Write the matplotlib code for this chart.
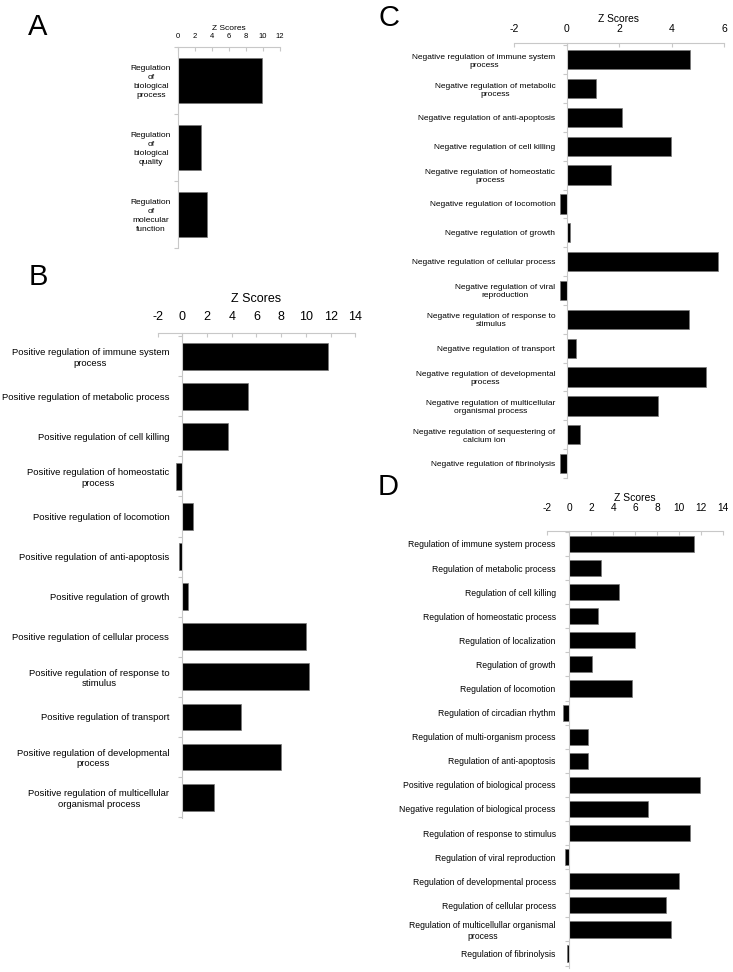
import matplotlib
matplotlib.use("Agg")
import matplotlib.pyplot as plt

plt.rcParams['font.family'] = ['Liberation Sans', 'DejaVu Sans']

# ---- data ----
a_labels = ["Regulation\nof\nbiological\nprocess",
            "Regulation\nof\nbiological\nquality",
            "Regulation\nof\nmolecular\nfunction"]
a_values = [9.9, 2.7, 3.5]

b_labels = ["Positive regulation of immune system\nprocess",
            "Positive regulation of metabolic process",
            "Positive regulation of cell killing",
            "Positive regulation of homeostatic\nprocess",
            "Positive regulation of locomotion",
            "Positive regulation of anti-apoptosis",
            "Positive regulation of growth",
            "Positive regulation of cellular process",
            "Positive regulation of response to\nstimulus",
            "Positive regulation of transport",
            "Positive regulation of developmental\nprocess",
            "Positive regulation of multicellular\norganismal process"]
b_values = [11.8, 5.3, 3.67, -0.53, 0.9, -0.25, 0.44, 10.03, 10.25, 4.75, 7.96, 2.59]

c_labels = ["Negative regulation of immune system\nprocess",
            "Negative regulation of metabolic\nprocess",
            "Negative regulation of anti-apoptosis",
            "Negative regulation of cell killing",
            "Negative regulation of homeostatic\nprocess",
            "Negative regulation of locomotion",
            "Negative regulation of growth",
            "Negative regulation of cellular process",
            "Negative regulation of viral\nreproduction",
            "Negative regulation of response to\nstimulus",
            "Negative regulation of transport",
            "Negative regulation of developmental\nprocess",
            "Negative regulation of multicellular\norganismal process",
            "Negative regulation of sequestering of\ncalcium ion",
            "Negative regulation of fibrinolysis"]
c_values = [4.70, 1.14, 2.13, 3.99, 1.70, -0.25, 0.13, 5.78, -0.25, 4.66, 0.37, 5.30, 3.47, 0.52, -0.25]

d_labels = ["Regulation of immune system process",
            "Regulation of metabolic process",
            "Regulation of cell killing",
            "Regulation of homeostatic process",
            "Regulation of localization",
            "Regulation of growth",
            "Regulation of locomotion",
            "Regulation of circadian rhythm",
            "Regulation of multi-organism process",
            "Regulation of anti-apoptosis",
            "Positive regulation of biological process",
            "Negative regulation of biological process",
            "Regulation of response to stimulus",
            "Regulation of viral reproduction",
            "Regulation of developmental process",
            "Regulation of cellular process",
            "Regulation of multicellullar organismal\nprocess",
            "Regulation of fibrinolysis"]
d_values = [11.36, 2.85, 4.49, 2.61, 5.97, 2.06, 5.73, -0.6, 1.73, 1.73,
            11.88, 7.12, 10.97, -0.39, 9.94, 8.79, 9.27, -0.24]

W, H = 733, 972
fig = plt.figure(figsize=(W / 100, H / 100), dpi=100)
GRAY = '#c8c8c8'


def panel(px, labels, values, xlim, xticks, fs_lab, fs_tick, fs_z, tpad, ypad, zpad, ylim,
          lsp=1.2):
    # px: left, top, right, bottom in pixels
    l, t, r, b = px
    ax = fig.add_axes([l / W, 1 - b / H, (r - l) / W, (b - t) / H])
    # value axis crosses at zero (done first, it resets the ticks)
    ax.spines['left'].set_position(('data', 0))
    y = list(range(len(values)))
    ax.barh(y, values, height=0.67, color='black', edgecolor='#777777', linewidth=0.5)
    ax.set_xlim(*xlim)
    ax.set_ylim(*ylim)
    ax.xaxis.tick_top()
    ax.xaxis.set_label_position('top')
    ax.set_xticks(xticks)
    ax.set_xticklabels([str(v) for v in xticks])
    ax.tick_params(axis='x', direction='in', length=3, color=GRAY, width=0.8,
                   labelsize=fs_tick, pad=tpad)
    ax.set_xlabel('Z Scores', fontsize=fs_z, labelpad=zpad)
    ax.set_yticks(y)
    ax.set_yticks([i - 0.5 for i in range(len(values) + 1)], minor=True)
    ax.tick_params(axis='y', which='major', length=0, pad=ypad, labelsize=fs_lab)
    ax.tick_params(axis='y', which='minor', length=3, color=GRAY, width=0.8)
    ax.set_yticklabels(labels, fontsize=fs_lab, ha='right', multialignment='center',
                       linespacing=lsp)
    for s in ['right', 'bottom']:
        ax.spines[s].set_visible(False)
    ax.spines['top'].set_color(GRAY)
    ax.spines['left'].set_color(GRAY)
    return ax


panel((177.7, 47, 279.7, 248), a_labels, a_values, (0, 12), list(range(0, 13, 2)),
      6.0, 5.5, 6, 5, 4.8, 2, (2.5, -0.5), lsp=1.4)
panel((157.6, 333.3, 355.3, 818), b_labels, b_values, (-2, 14), list(range(-2, 15, 2)),
      6.8, 9, 9, 7.5, 9.4, 6.5, (11.52, -0.57))
panel((514, 42.7, 724, 478), c_labels, c_values, (-2, 6), list(range(-2, 7, 2)),
      6.0, 7.5, 7.4, 6, 8, 2, (14.47, -0.59))
panel((547.3, 530.7, 723.3, 968), d_labels, d_values, (-2, 14), list(range(-2, 15, 2)),
      6.2, 7.3, 7.5, 13, 9.8, 1, (17.6, -0.55))

for letter, x, y in [('A', 38, 35), ('B', 38, 285), ('C', 389, 26), ('D', 388.5, 495)]:
    fig.text(x / W, 1 - y / H, letter, fontsize=21, ha='center', va='baseline')

fig.savefig('out.png', dpi=100)
